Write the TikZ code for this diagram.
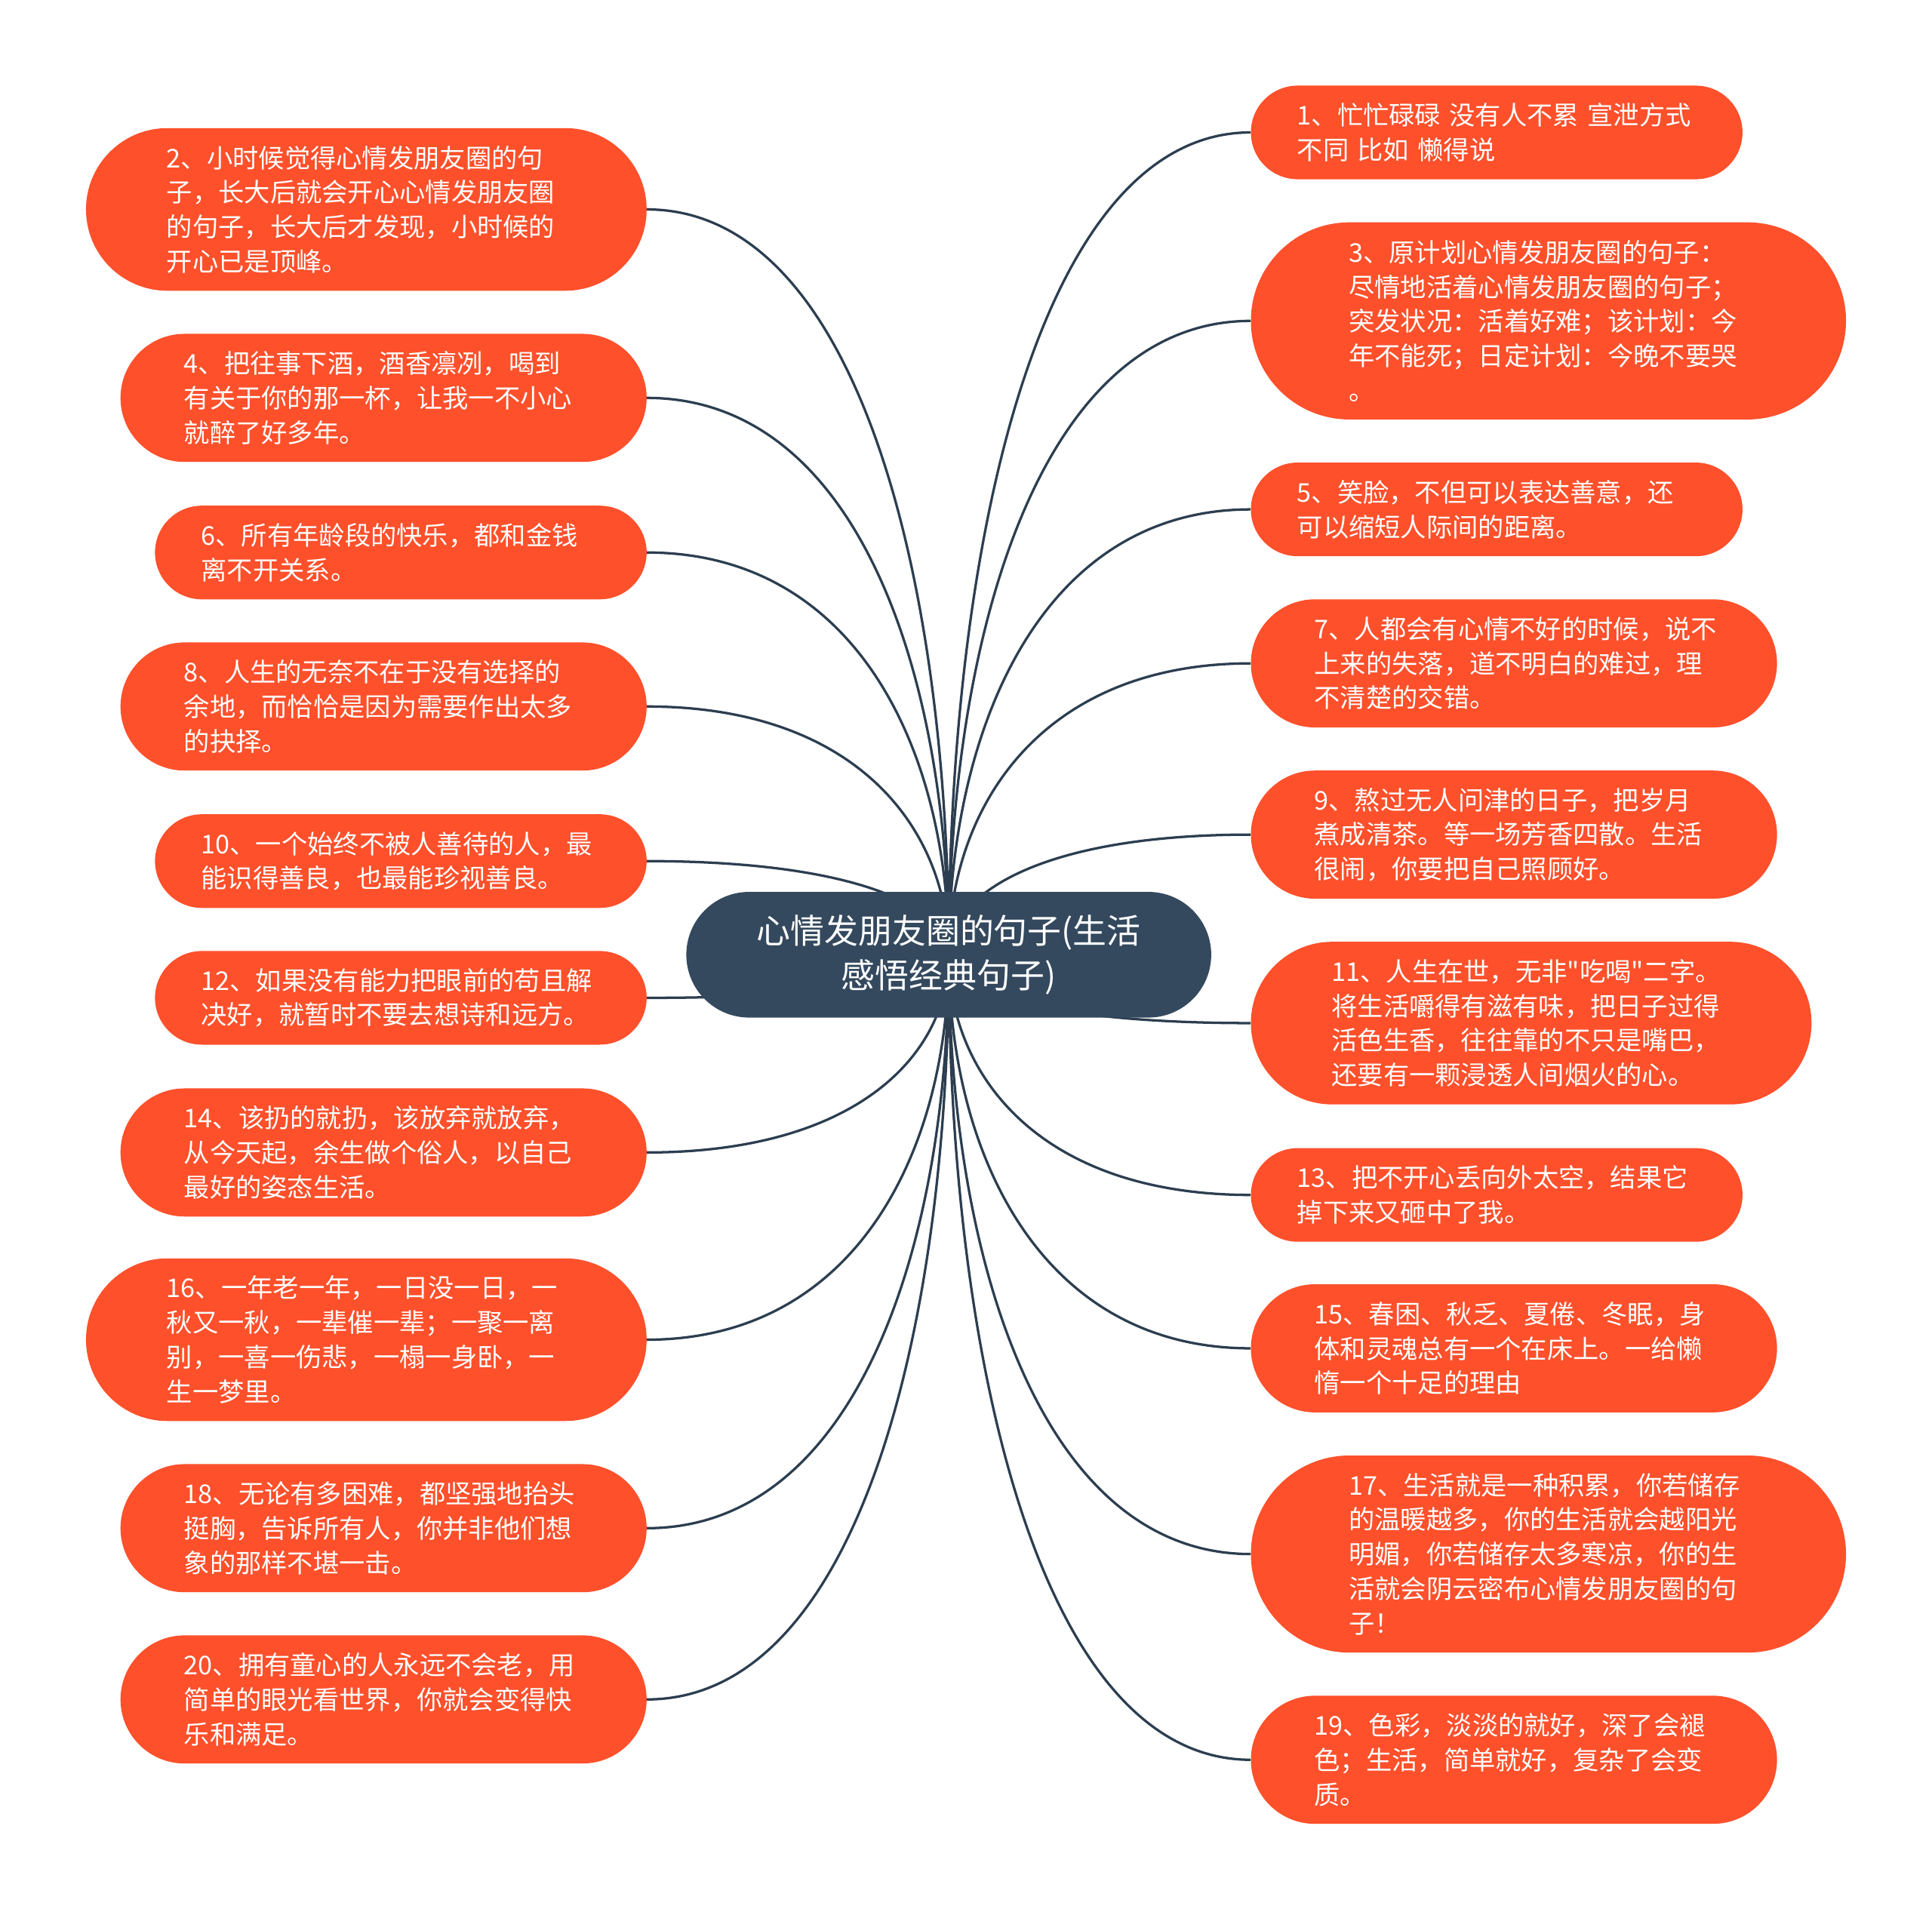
\documentclass[tikz,border=0pt]{standalone}
\usepackage{fontspec}
\setmainfont{Noto Sans CJK SC}[Ligatures=TeXOff]
\usetikzlibrary{calc,backgrounds}
\definecolor{leafc}{RGB}{254,80,43}
\definecolor{rootc}{RGB}{52,73,94}
\definecolor{linec}{RGB}{44,62,80}
\newcommand\linkto[2]{\draw[conn] let \p1=(c.center), \p2=(#1.#2) in (\p1) .. controls (\x1,{\y1+0.5*(\y2-\y1)}) and ({\x1+0.3*(\x2-\x1)},\y2) .. (\p2);}
\begin{document}
\begin{tikzpicture}[x=1pt,y=-1pt,
  leaf/.style={fill=leafc,text=white,inner sep=0pt,align=left,text width=324pt,font=\fontsize{21}{28}\selectfont},
  two/.style={minimum width=399pt,minimum height=76pt,rounded corners=38pt},
  three/.style={minimum width=427pt,minimum height=104pt,rounded corners=52pt},
  four/.style={minimum width=455pt,minimum height=132pt,rounded corners=66pt},
  five/.style={minimum width=483pt,minimum height=160pt,rounded corners=80pt},
  root/.style={fill=rootc,text=white,minimum width=426pt,minimum height=102pt,rounded corners=51pt,align=center,inner sep=0pt,font=\fontsize{27.5}{36.5}\selectfont},
  conn/.style={draw=linec,line width=2pt},
  lft/.style={anchor=east},
  rgt/.style={anchor=west}]
\useasboundingbox (0,0) rectangle (1568,1551.5);

\node[root] (c) at (770,775) {心情发朋友圈的句子(生活\\感悟经典句子)};

% left column
\node[leaf,four,lft] (n2) at (525,170) {2、小时候觉得心情发朋友圈的句\\子，长大后就会开心心情发朋友圈\\的句子，长大后才发现，小时候的\\开心已是顶峰。};
\node[leaf,three,lft] (n4) at (525,323) {4、把往事下酒，酒香凛冽，喝到\\有关于你的那一杯，让我一不小心\\就醉了好多年。};
\node[leaf,two,lft] (n6) at (525,448.5) {6、所有年龄段的快乐，都和金钱\\离不开关系。};
\node[leaf,three,lft] (n8) at (525,573.5) {8、人生的无奈不在于没有选择的\\余地，而恰恰是因为需要作出太多\\的抉择。};
\node[leaf,two,lft] (n10) at (525,699) {10、一个始终不被人善待的人，最\\能识得善良，也最能珍视善良。};
\node[leaf,two,lft] (n12) at (525,810) {12、如果没有能力把眼前的苟且解\\决好，就暂时不要去想诗和远方。};
\node[leaf,three,lft] (n14) at (525,935.5) {14、该扔的就扔，该放弃就放弃，\\从今天起，余生做个俗人，以自己\\最好的姿态生活。};
\node[leaf,four,lft] (n16) at (525,1087.5) {16、一年老一年，一日没一日，一\\秋又一秋，一辈催一辈；一聚一离\\别，一喜一伤悲，一榻一身卧，一\\生一梦里。};
\node[leaf,three,lft] (n18) at (525,1240.5) {18、无论有多困难，都坚强地抬头\\挺胸，告诉所有人，你并非他们想\\象的那样不堪一击。};
\node[leaf,three,lft] (n20) at (525,1379.5) {20、拥有童心的人永远不会老，用\\简单的眼光看世界，你就会变得快\\乐和满足。};

% right column
\node[leaf,two,rgt] (n1) at (1015,107.5) {1、忙忙碌碌 没有人不累 宣泄方式\\不同 比如 懒得说};
\node[leaf,five,rgt] (n3) at (1015,260.5) {3、原计划心情发朋友圈的句子：\\尽情地活着心情发朋友圈的句子；\\突发状况：活着好难；该计划：今\\年不能死；日定计划：今晚不要哭\\。};
\node[leaf,two,rgt] (n5) at (1015,413.5) {5、笑脸，不但可以表达善意，还\\可以缩短人际间的距离。};
\node[leaf,three,rgt] (n7) at (1015,538.5) {7、人都会有心情不好的时候，说不\\上来的失落，道不明白的难过，理\\不清楚的交错。};
\node[leaf,three,rgt] (n9) at (1015,677.5) {9、熬过无人问津的日子，把岁月\\煮成清茶。等一场芳香四散。生活\\很闹，你要把自己照顾好。};
\node[leaf,four,rgt] (n11) at (1015,830.5) {11、人生在世，无非"吃喝"二字。\\将生活嚼得有滋有味，把日子过得\\活色生香，往往靠的不只是嘴巴，\\还要有一颗浸透人间烟火的心。};
\node[leaf,two,rgt] (n13) at (1015,970) {13、把不开心丢向外太空，结果它\\掉下来又砸中了我。};
\node[leaf,three,rgt] (n15) at (1015,1094.5) {15、春困、秋乏、夏倦、冬眠，身\\体和灵魂总有一个在床上。一给懒\\惰一个十足的理由};
\node[leaf,five,rgt] (n17) at (1015,1261.5) {17、生活就是一种积累，你若储存\\的温暖越多，你的生活就会越阳光\\明媚，你若储存太多寒凉，你的生\\活就会阴云密布心情发朋友圈的句\\子！};
\node[leaf,three,rgt] (n19) at (1015,1428.5) {19、色彩，淡淡的就好，深了会褪\\色；生活，简单就好，复杂了会变\\质。};

\begin{scope}[on background layer]
\fill[white] (0,0) rectangle (1568,1551.5);
\linkto{n2}{east}
\linkto{n4}{east}
\linkto{n6}{east}
\linkto{n8}{east}
\linkto{n10}{east}
\linkto{n12}{east}
\linkto{n14}{east}
\linkto{n16}{east}
\linkto{n18}{east}
\linkto{n20}{east}
\linkto{n1}{west}
\linkto{n3}{west}
\linkto{n5}{west}
\linkto{n7}{west}
\linkto{n9}{west}
\linkto{n11}{west}
\linkto{n13}{west}
\linkto{n15}{west}
\linkto{n17}{west}
\linkto{n19}{west}
\end{scope}
\end{tikzpicture}
\end{document}
